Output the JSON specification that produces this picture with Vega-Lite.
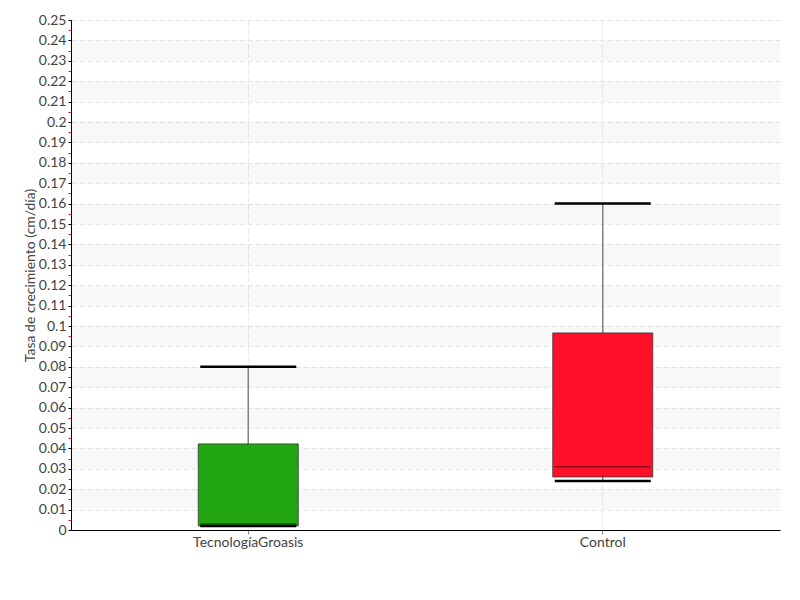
{
  "$schema": "https://vega.github.io/schema/vega-lite/v6.json",
  "width": 709,
  "height": 510,
  "autosize": {"type": "none"},
  "padding": {"left": 71, "top": 20, "right": 20, "bottom": 70},
  "background": "white",
  "config": {
    "view": {"stroke": null},
    "font": "Lato",
    "axis": {"labelFont": "Lato", "titleFont": "Lato", "labelColor": "#444", "titleColor": "#444", "labelFontSize": 14, "titleFontSize": 14, "titleFontWeight": "normal"},
    "axisY": {
      "title": "Tasa de crecimiento (cm/día)", "titlePadding": 1,
      "labelExpr": "round(datum.value*1000) % 10 == 5 ? '' : format(datum.value, '.2~f')",
      "labelOverlap": false, "labelPadding": 2,
      "domainColor": "#000", "domainWidth": 1,
      "tickColor": {"condition": {"test": "round(datum.value*1000) % 10 == 5", "value": "#e0202a"}, "value": "#000"},
      "tickSize": 3,
      "grid": true, "gridColor": "#e6e6e6", "gridDash": [5, 3],
      "gridOpacity": {"condition": {"test": "round(datum.value*1000) % 10 == 5", "value": 0}, "value": 1}
    }
  },
  "datasets": {
    "stats": [
      {"grupo": "TecnologíaGroasis", "min": 0.002, "q1": 0.002, "median": 0.0029, "q3": 0.0422, "max": 0.08},
      {"grupo": "Control", "min": 0.024, "q1": 0.026, "median": 0.031, "q3": 0.0966, "max": 0.16}
    ],
    "bands": [
      {"lo": 0.01, "hi": 0.02}, {"lo": 0.03, "hi": 0.04}, {"lo": 0.05, "hi": 0.06}, {"lo": 0.07, "hi": 0.08},
      {"lo": 0.09, "hi": 0.10}, {"lo": 0.11, "hi": 0.12}, {"lo": 0.13, "hi": 0.14}, {"lo": 0.15, "hi": 0.16},
      {"lo": 0.17, "hi": 0.18}, {"lo": 0.19, "hi": 0.20}, {"lo": 0.21, "hi": 0.22}, {"lo": 0.23, "hi": 0.24}
    ]
  },
  "layer": [
    {
      "data": {"name": "bands"},
      "mark": {"type": "rect", "fill": "#000", "opacity": 0.028},
      "encoding": {
        "y": {"field": "lo", "type": "quantitative", "scale": {"domain": [0, 0.25], "nice": false, "zero": true},
              "axis": {"title": "Tasa de crecimiento (cm/día)", "values": [0,0.005,0.01,0.015,0.02,0.025,0.03,0.035,0.04,0.045,0.05,0.055,0.06,0.065,0.07,0.075,0.08,0.085,0.09,0.095,0.1,0.105,0.11,0.115,0.12,0.125,0.13,0.135,0.14,0.145,0.15,0.155,0.16,0.165,0.17,0.175,0.18,0.185,0.19,0.195,0.2,0.205,0.21,0.215,0.22,0.225,0.23,0.235,0.24,0.245,0.25]}},
        "y2": {"field": "hi"}
      }
    },
    {
      "data": {"name": "stats"},
      "mark": {"type": "rule", "color": "#808080", "strokeWidth": 1.5},
      "encoding": {
        "x": {"field": "grupo", "type": "nominal", "sort": ["TecnologíaGroasis", "Control"],
              "scale": {"paddingInner": 0, "paddingOuter": 0},
              "axis": {"title": null, "labelAngle": 0, "domainColor": "#000", "domainWidth": 1, "tickColor": "#888", "tickSize": 4, "bandPosition": 0.5,
                       "grid": true, "gridColor": "#e6e6e6", "gridDash": [5, 3], "labelPadding": 1}},
        "y": {"field": "q3", "type": "quantitative",
              "axis": {"title": "Tasa de crecimiento (cm/día)", "values": [0,0.005,0.01,0.015,0.02,0.025,0.03,0.035,0.04,0.045,0.05,0.055,0.06,0.065,0.07,0.075,0.08,0.085,0.09,0.095,0.1,0.105,0.11,0.115,0.12,0.125,0.13,0.135,0.14,0.145,0.15,0.155,0.16,0.165,0.17,0.175,0.18,0.185,0.19,0.195,0.2,0.205,0.21,0.215,0.22,0.225,0.23,0.235,0.24,0.245,0.25]}},
        "y2": {"field": "max"}
      }
    },
    {
      "data": {"name": "stats"},
      "mark": {"type": "rule", "color": "#808080", "strokeWidth": 1.5},
      "encoding": {
        "x": {"field": "grupo", "type": "nominal", "sort": ["TecnologíaGroasis", "Control"]},
        "y": {"field": "min", "type": "quantitative",
              "axis": {"title": "Tasa de crecimiento (cm/día)", "values": [0,0.005,0.01,0.015,0.02,0.025,0.03,0.035,0.04,0.045,0.05,0.055,0.06,0.065,0.07,0.075,0.08,0.085,0.09,0.095,0.1,0.105,0.11,0.115,0.12,0.125,0.13,0.135,0.14,0.145,0.15,0.155,0.16,0.165,0.17,0.175,0.18,0.185,0.19,0.195,0.2,0.205,0.21,0.215,0.22,0.225,0.23,0.235,0.24,0.245,0.25]}},
        "y2": {"field": "q1"}
      }
    },
    {
      "data": {"name": "stats"},
      "mark": {"type": "bar", "size": 100, "stroke": "#333", "strokeOpacity": 0.8, "strokeWidth": 1},
      "encoding": {
        "x": {"field": "grupo", "type": "nominal", "sort": ["TecnologíaGroasis", "Control"]},
        "y": {"field": "q1", "type": "quantitative",
              "axis": {"title": "Tasa de crecimiento (cm/día)", "values": [0,0.005,0.01,0.015,0.02,0.025,0.03,0.035,0.04,0.045,0.05,0.055,0.06,0.065,0.07,0.075,0.08,0.085,0.09,0.095,0.1,0.105,0.11,0.115,0.12,0.125,0.13,0.135,0.14,0.145,0.15,0.155,0.16,0.165,0.17,0.175,0.18,0.185,0.19,0.195,0.2,0.205,0.21,0.215,0.22,0.225,0.23,0.235,0.24,0.245,0.25]}},
        "y2": {"field": "q3"},
        "color": {"field": "grupo", "type": "nominal", "legend": null,
                  "scale": {"domain": ["TecnologíaGroasis", "Control"], "range": ["#22a612", "#ff1029"]}}
      }
    },
    {
      "data": {"name": "stats"},
      "mark": {"type": "tick", "size": 96, "thickness": 1.5, "color": "#000", "opacity": 0.45},
      "encoding": {
        "x": {"field": "grupo", "type": "nominal", "sort": ["TecnologíaGroasis", "Control"]},
        "y": {"field": "median", "type": "quantitative",
              "axis": {"title": "Tasa de crecimiento (cm/día)", "values": [0,0.005,0.01,0.015,0.02,0.025,0.03,0.035,0.04,0.045,0.05,0.055,0.06,0.065,0.07,0.075,0.08,0.085,0.09,0.095,0.1,0.105,0.11,0.115,0.12,0.125,0.13,0.135,0.14,0.145,0.15,0.155,0.16,0.165,0.17,0.175,0.18,0.185,0.19,0.195,0.2,0.205,0.21,0.215,0.22,0.225,0.23,0.235,0.24,0.245,0.25]}}
      }
    },
    {
      "data": {"name": "stats"},
      "mark": {"type": "tick", "size": 96, "thickness": 2.5, "color": "#000", "opacity": 1},
      "encoding": {
        "x": {"field": "grupo", "type": "nominal", "sort": ["TecnologíaGroasis", "Control"]},
        "y": {"field": "max", "type": "quantitative",
              "axis": {"title": "Tasa de crecimiento (cm/día)", "values": [0,0.005,0.01,0.015,0.02,0.025,0.03,0.035,0.04,0.045,0.05,0.055,0.06,0.065,0.07,0.075,0.08,0.085,0.09,0.095,0.1,0.105,0.11,0.115,0.12,0.125,0.13,0.135,0.14,0.145,0.15,0.155,0.16,0.165,0.17,0.175,0.18,0.185,0.19,0.195,0.2,0.205,0.21,0.215,0.22,0.225,0.23,0.235,0.24,0.245,0.25]}}
      }
    },
    {
      "data": {"name": "stats"},
      "mark": {"type": "tick", "size": 96, "thickness": 2.5, "color": "#000", "opacity": 1},
      "encoding": {
        "x": {"field": "grupo", "type": "nominal", "sort": ["TecnologíaGroasis", "Control"]},
        "y": {"field": "min", "type": "quantitative",
              "axis": {"title": "Tasa de crecimiento (cm/día)", "values": [0,0.005,0.01,0.015,0.02,0.025,0.03,0.035,0.04,0.045,0.05,0.055,0.06,0.065,0.07,0.075,0.08,0.085,0.09,0.095,0.1,0.105,0.11,0.115,0.12,0.125,0.13,0.135,0.14,0.145,0.15,0.155,0.16,0.165,0.17,0.175,0.18,0.185,0.19,0.195,0.2,0.205,0.21,0.215,0.22,0.225,0.23,0.235,0.24,0.245,0.25]}}
      }
    }
  ]
}
